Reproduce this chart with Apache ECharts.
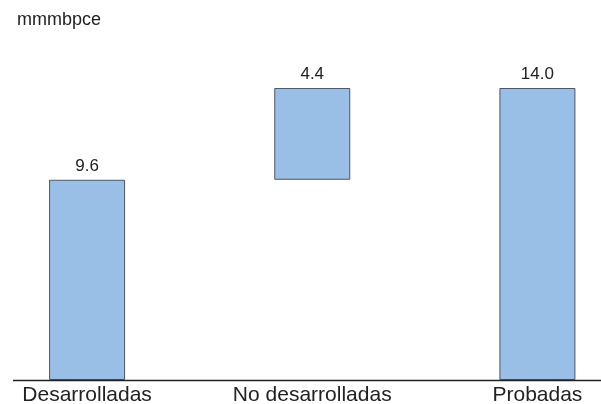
<!DOCTYPE html>
<html>
<head>
<meta charset="utf-8">
<script src="https://cdn.jsdelivr.net/npm/echarts@6/dist/echarts.min.js"></script>
<style>
  html, body { margin: 0; padding: 0; background: #fff; }
  #chart { width: 601px; height: 404px; }
</style>
</head>
<body>
<div id="chart"></div>
<script>
// Reserves breakdown (mmmbpce): developed + undeveloped = proved
const categories = ['Desarrolladas', 'No desarrolladas', 'Probadas'];
const amounts = [9.6, 4.4, 14.0];
// invisible offset so the middle bar floats on top of the first one
const offsets = [0, 9.6, 0];
const unitLabel = 'mmmbpce';

const FONT = 'Liberation Sans, Arial, sans-serif';
const chart = echarts.init(document.getElementById('chart'));
chart.setOption({
  animation: false,
  backgroundColor: '#ffffff',
  textStyle: { fontFamily: FONT },
  title: {
    text: unitLabel,
    left: 12,
    top: 6,
    textStyle: { fontSize: 18, fontWeight: 'normal', color: '#222222', fontFamily: FONT }
  },
  // the plot area is wider than the canvas so the outer bars sit near the edges
  grid: { left: -25.5, right: -49, top: 88, bottom: 24, outerBoundsMode: 'none' },
  xAxis: {
    type: 'category',
    data: categories,
    axisLine: { show: false },
    axisTick: { show: false },
    axisLabel: { color: '#222222', fontSize: 21, margin: 5, fontFamily: FONT }
  },
  yAxis: {
    type: 'value',
    min: 0,
    max: 14,
    show: false
  },
  graphic: [{
    type: 'line',
    shape: { x1: 13, y1: 380.5, x2: 601, y2: 380.5 },
    style: { stroke: '#222222', lineWidth: 1.5 },
    z: 10
  }],
  series: [
    {
      type: 'bar',
      stack: 'total',
      data: offsets,
      barWidth: 76,
      itemStyle: { color: 'transparent' },
      silent: true
    },
    {
      type: 'bar',
      stack: 'total',
      data: amounts,
      barWidth: 76,
      itemStyle: { color: '#9abfe6', borderColor: '#4e5566', borderWidth: 1 },
      label: {
        show: true,
        position: 'top',
        distance: 5,
        color: '#222222',
        fontSize: 17,
        fontFamily: FONT,
        formatter: p => p.value.toFixed(1)
      }
    }
  ]
});
</script>
</body>
</html>
